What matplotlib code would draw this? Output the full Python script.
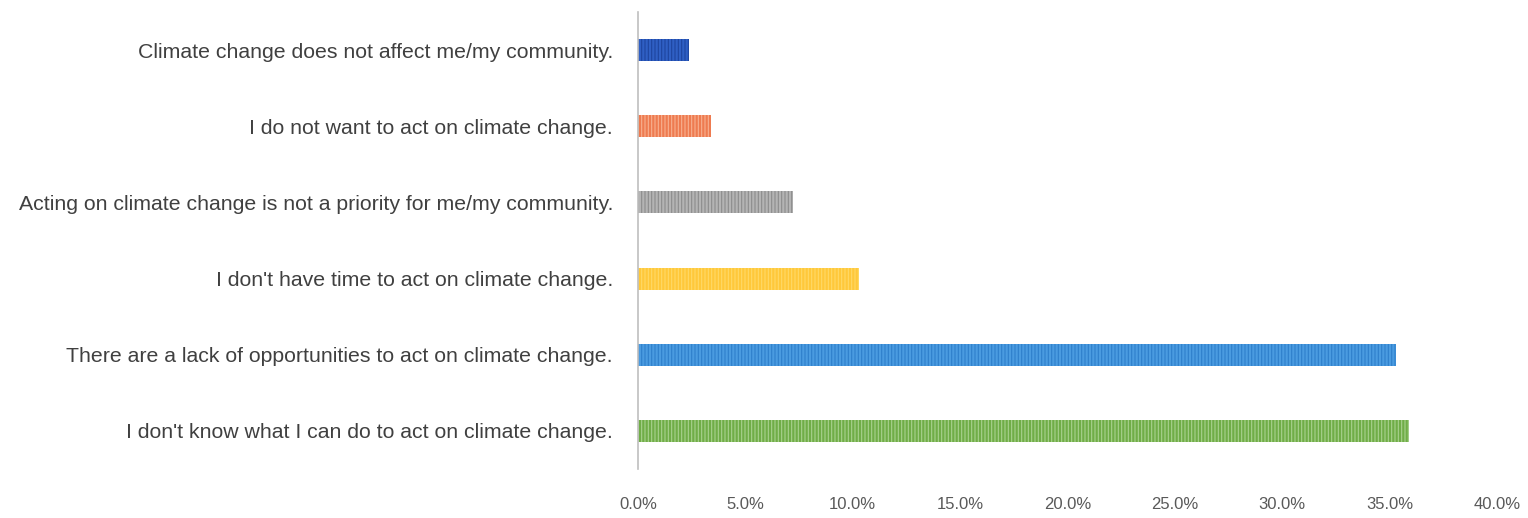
import matplotlib
matplotlib.use("Agg")
from matplotlib import pyplot as plt
from matplotlib.ticker import PercentFormatter

plt.rcParams['font.family'] = ['Liberation Sans', 'DejaVu Sans']

categories = [
    "I don't know what I can do to act on climate change.",
    "There are a lack of opportunities to act on climate change.",
    "I don't have time to act on climate change.",
    "Acting on climate change is not a priority for me/my community.",
    "I do not want to act on climate change.",
    "Climate change does not affect me/my community.",
]
values = [35.9, 35.3, 10.3, 7.2, 3.4, 2.4]
xticks = [0, 5, 10, 15, 20, 25, 30, 35, 40]

colors = ['#70AD47', '#4A9BE0', '#FFC83A', '#B4B4B4', '#EE7B50', '#2F5FC4']
stripes = ['#A9D18E', '#2E7FCB', '#FFD966', '#8C8C8C', '#F8B090', '#1E45A0']

plt.rcParams['hatch.linewidth'] = 0.8

fig = plt.figure(figsize=(15.28, 5.18), dpi=100)
ax = fig.add_axes([0.4175, 0.0946, 0.5622, 0.8822])

ypos = range(len(categories))
for i in ypos:
    ax.barh(i, values[i], height=0.29, color=colors[i],
            edgecolor=stripes[i], linewidth=0, hatch='|||||')

ax.set_yticks(list(ypos))
ax.set_yticklabels(categories, fontsize=15.3, color='#404040')
ax.set_ylim(-0.5, len(categories) - 0.5)
ax.set_xlim(0, 40)
ax.set_xticks(xticks)
ax.xaxis.set_major_formatter(PercentFormatter(decimals=1))
ax.tick_params(axis='x', length=0, pad=20, labelsize=12, labelcolor='#595959')
ax.tick_params(axis='y', length=0, pad=18)

for s in ['top', 'right', 'bottom']:
    ax.spines[s].set_visible(False)
ax.spines['left'].set_color('#BFBFBF')
ax.spines['left'].set_linewidth(1.2)

fig.savefig('out.png', dpi=100)
